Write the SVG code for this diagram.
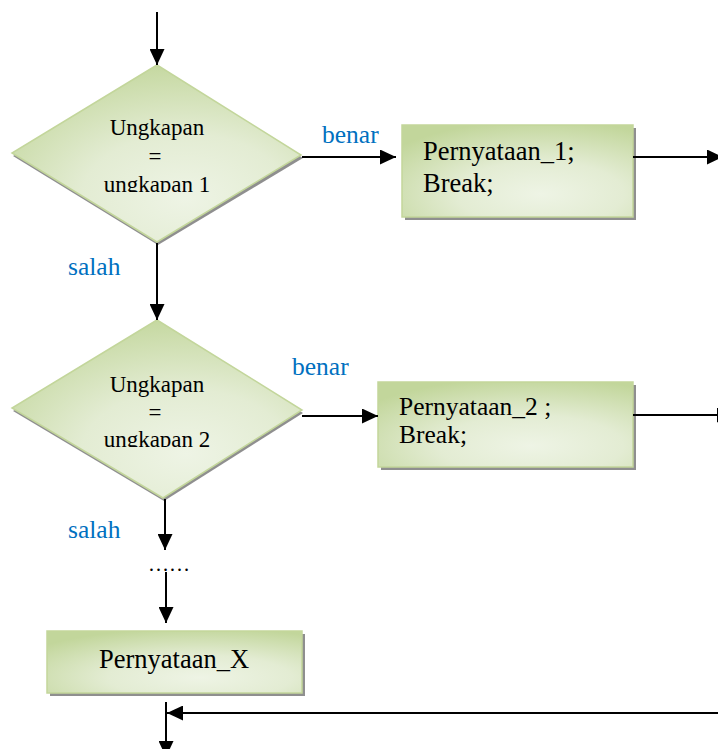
<svg xmlns="http://www.w3.org/2000/svg" width="718" height="749" viewBox="0 0 718 749">
<defs>
<style>
.shape{fill:url(#g);stroke:#C3D69B;stroke-width:1.5}
.shadow{fill:#8f8f8f}
.txt{font-family:'Liberation Serif','DejaVu Serif',serif;fill:#000}
.lbl{font-family:'Liberation Serif','DejaVu Serif',serif;fill:#0070C0;font-size:25.5px}
.con{stroke:#000;stroke-width:2;fill:none}
</style>
<radialGradient id="g" cx="0.6" cy="0.75" r="0.8">
<stop offset="0" stop-color="#EEF4E5"/>
<stop offset="0.45" stop-color="#E3ECD3"/>
<stop offset="1" stop-color="#C2D69B"/>
</radialGradient>
<marker id="ah" markerWidth="16" markerHeight="15" refX="16" refY="7.5" orient="auto" markerUnits="userSpaceOnUse">
<path d="M0,0 L16,7.5 L0,15 z" fill="#000"/>
</marker>
<clipPath id="c1"><rect x="0" y="0" width="718" height="192"/></clipPath>
<clipPath id="c2"><rect x="0" y="0" width="718" height="447"/></clipPath>
</defs>

<g id="decision1">
<polygon class="shadow" points="158,68 303,158 158,245 13,156"/>
<polygon class="shape" points="157,65 301,155 157,242 12,153"/>
<g class="txt" font-size="23" text-anchor="middle">
<text x="157" y="135">Ungkapan</text>
<text x="155" y="164">=</text>
<text x="157" y="192" clip-path="url(#c1)">ungkapan  1</text>
</g>
</g>

<g id="process1">
<rect class="shadow" x="405" y="128" width="231" height="92"/>
<rect class="shape" x="402" y="125" width="231" height="92"/>
<g class="txt" font-size="26.5">
<text x="423" y="160">Pernyataan_1;</text>
<text x="423" y="192">Break;</text>
</g>
</g>

<g id="decision2">
<polygon class="shadow" points="158,323 303,413 164,501 13,411"/>
<polygon class="shape" points="157,320 302,410 163,498 12,408"/>
<g class="txt" font-size="23" text-anchor="middle">
<text x="157" y="392">Ungkapan</text>
<text x="155" y="420">=</text>
<text x="157" y="447" clip-path="url(#c2)">ungkapan  2</text>
</g>
</g>

<g id="process2">
<rect class="shadow" x="381" y="385" width="255" height="85"/>
<rect class="shape" x="378" y="382" width="255" height="85"/>
<g class="txt" font-size="25.5">
<text x="399" y="415">Pernyataan_2 ;</text>
<text x="399" y="443">Break;</text>
</g>
</g>

<g id="ellipsis">
<text class="txt" x="148" y="571" font-size="21">……</text>
</g>

<g id="processX">
<rect class="shadow" x="50" y="634" width="255" height="62"/>
<rect class="shape" x="47" y="631" width="255" height="62"/>
<text class="txt" x="174" y="668" font-size="26.5" text-anchor="middle">Pernyataan_X</text>
</g>

<g id="labels">
<text class="lbl" x="322" y="143">benar</text>
<text class="lbl" x="68" y="275">salah</text>
<text class="lbl" x="292" y="375">benar</text>
<text class="lbl" x="68" y="538">salah</text>
</g>

<g id="connectors">
<path class="con" d="M157,12 V65" marker-end="url(#ah)"/>
<path class="con" d="M302,157 H396" marker-end="url(#ah)"/>
<path class="con" d="M633,157 H723" marker-end="url(#ah)"/>
<path class="con" d="M157,243 V320" marker-end="url(#ah)"/>
<path class="con" d="M302,416 H378" marker-end="url(#ah)"/>
<path class="con" d="M633,415 H733" marker-end="url(#ah)"/>
<path class="con" d="M165,499 V550" marker-end="url(#ah)"/>
<path class="con" d="M166,572 V623" marker-end="url(#ah)"/>
<path class="con" d="M166,702 V757" marker-end="url(#ah)"/>
<path class="con" d="M718,713 H167" marker-end="url(#ah)"/>
</g>
</svg>
